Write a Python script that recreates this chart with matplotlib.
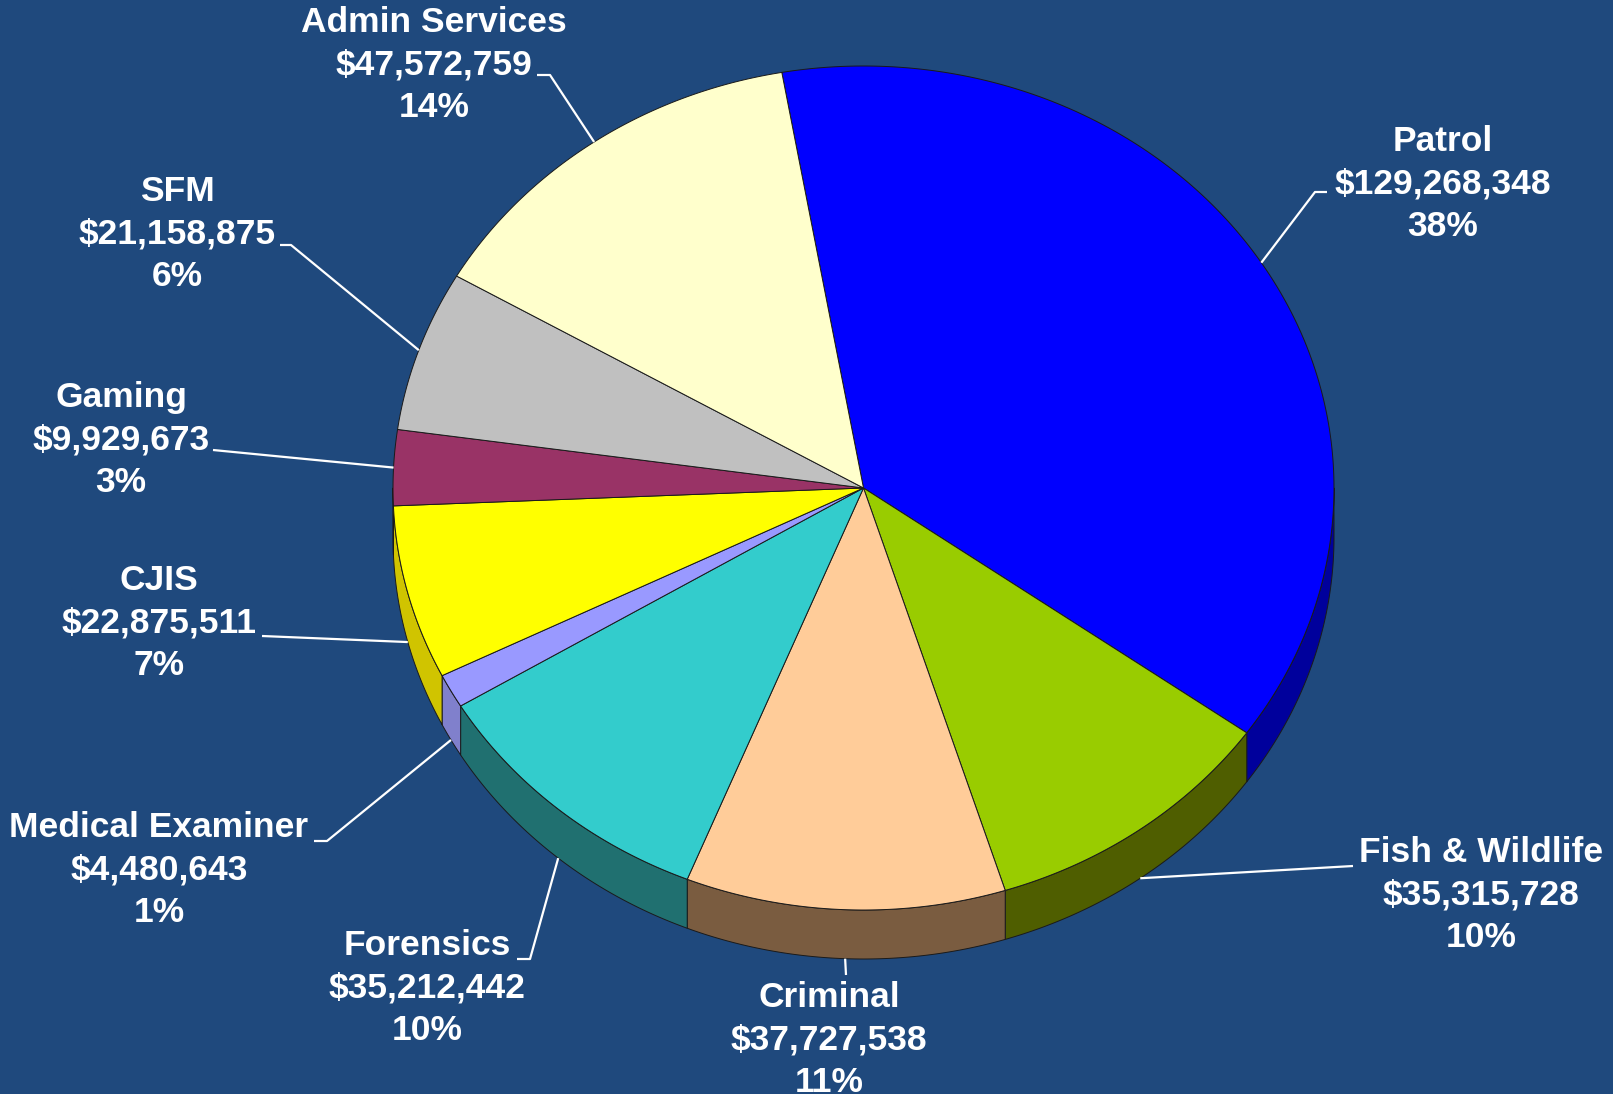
import numpy as np
import matplotlib
matplotlib.use("Agg")
import matplotlib.pyplot as plt
from matplotlib.patches import Polygon

# Division budgets, listed clockwise starting at the top of the pie
divisions = ["Patrol", "Fish & Wildlife", "Criminal", "Forensics",
             "Medical Examiner", "CJIS", "Gaming", "SFM", "Admin Services"]
budget = [129268348, 35315728, 37727538, 35212442,
          4480643, 22875511, 9929673, 21158875, 47572759]

top_colors = ["#0000FF", "#99CC00", "#FFCC99", "#33CCCC",
              "#9999FF", "#FFFF00", "#993366", "#C0C0C0", "#FFFFCC"]
side_colors = ["#00009C", "#4F5E00", "#7A5C40", "#207070",
               "#8080CC", "#D0C400", "#6B2447", "#8A8A8A", "#BFBF99"]

BG = "#1F497D"
W, H = 1613, 1094
CX, CY = 863.5, 488.0     # centre of the top face (pixels, y down)
RX, RY = 470.5, 422.0     # tilted disc -> ellipse
DEPTH = 49
START = 100.0             # degrees; slices run clockwise from here

# label block centres and leader-line elbows, pixel coords
label_pos = [(1443, 184), (1481, 895), (829, 1040), (427, 988),
             (159, 870), (159, 623), (121, 440), (177, 234), (434, 65)]
leader_pts = [[(1315, 192), (1327, 192)],
              [(1353, 866)],
              [(846, 975)],
              [(530, 959), (517, 959)],
              [(327, 841), (314, 841)],
              [(262, 636)],
              [(213, 450)],
              [(291, 245), (280, 245)],
              [(550, 75), (537, 75)]]


def arc(t0, t1, dy=0.0, n=240):
    t = np.radians(np.linspace(t0, t1, n))
    return np.column_stack([CX + RX * np.cos(t), CY - RY * np.sin(t) + dy])


vals = np.array(budget, dtype=float)
frac = vals / vals.sum()
cum = np.concatenate([[0.0], np.cumsum(frac)])
t_start = START - 360 * cum[:-1]
t_end = START - 360 * cum[1:]

fig = plt.figure(figsize=(W / 100, H / 100), dpi=100, facecolor=BG)
ax = fig.add_axes([0, 0, 1, 1])
ax.set_xlim(0, W)
ax.set_ylim(H, 0)
ax.axis("off")

edge = dict(edgecolor="#1a1a1a", linewidth=0.7, joinstyle="round")

# outer wall of the disc, only the front half shows
for i in range(len(vals)):
    lo, hi = max(t_end[i], -180.0), min(t_start[i], 0.0)
    if lo < hi:
        pts = np.vstack([arc(hi, lo), arc(lo, hi, dy=DEPTH)])
        ax.add_patch(Polygon(pts, closed=True, facecolor=side_colors[i], **edge))

# top face
for i in range(len(vals)):
    pts = np.vstack([[[CX, CY]], arc(t_start[i], t_end[i])])
    ax.add_patch(Polygon(pts, closed=True, facecolor=top_colors[i], **edge))

# labels with leader lines
for i, name in enumerate(divisions):
    mid = np.radians((t_start[i] + t_end[i]) / 2)
    ax0 = CX + RX * np.cos(mid)
    ay0 = CY - RY * np.sin(mid)
    if np.sin(mid) < 0:
        ay0 += DEPTH
    xs = [ax0] + [p[0] for p in leader_pts[i]]
    ys = [ay0] + [p[1] for p in leader_pts[i]]
    ax.plot(xs, ys, color="white", lw=1.6, solid_capstyle="butt")
    txt = f"{name}\n${budget[i]:,.0f}\n{100 * frac[i]:.0f}%"
    ax.text(label_pos[i][0], label_pos[i][1], txt, ha="center", va="center",
            multialignment="center", linespacing=1.38, color="white",
            fontsize=25.5, fontweight="bold",
            family=["Liberation Sans", "DejaVu Sans"])

fig.savefig("out.png", dpi=100, facecolor=BG)
